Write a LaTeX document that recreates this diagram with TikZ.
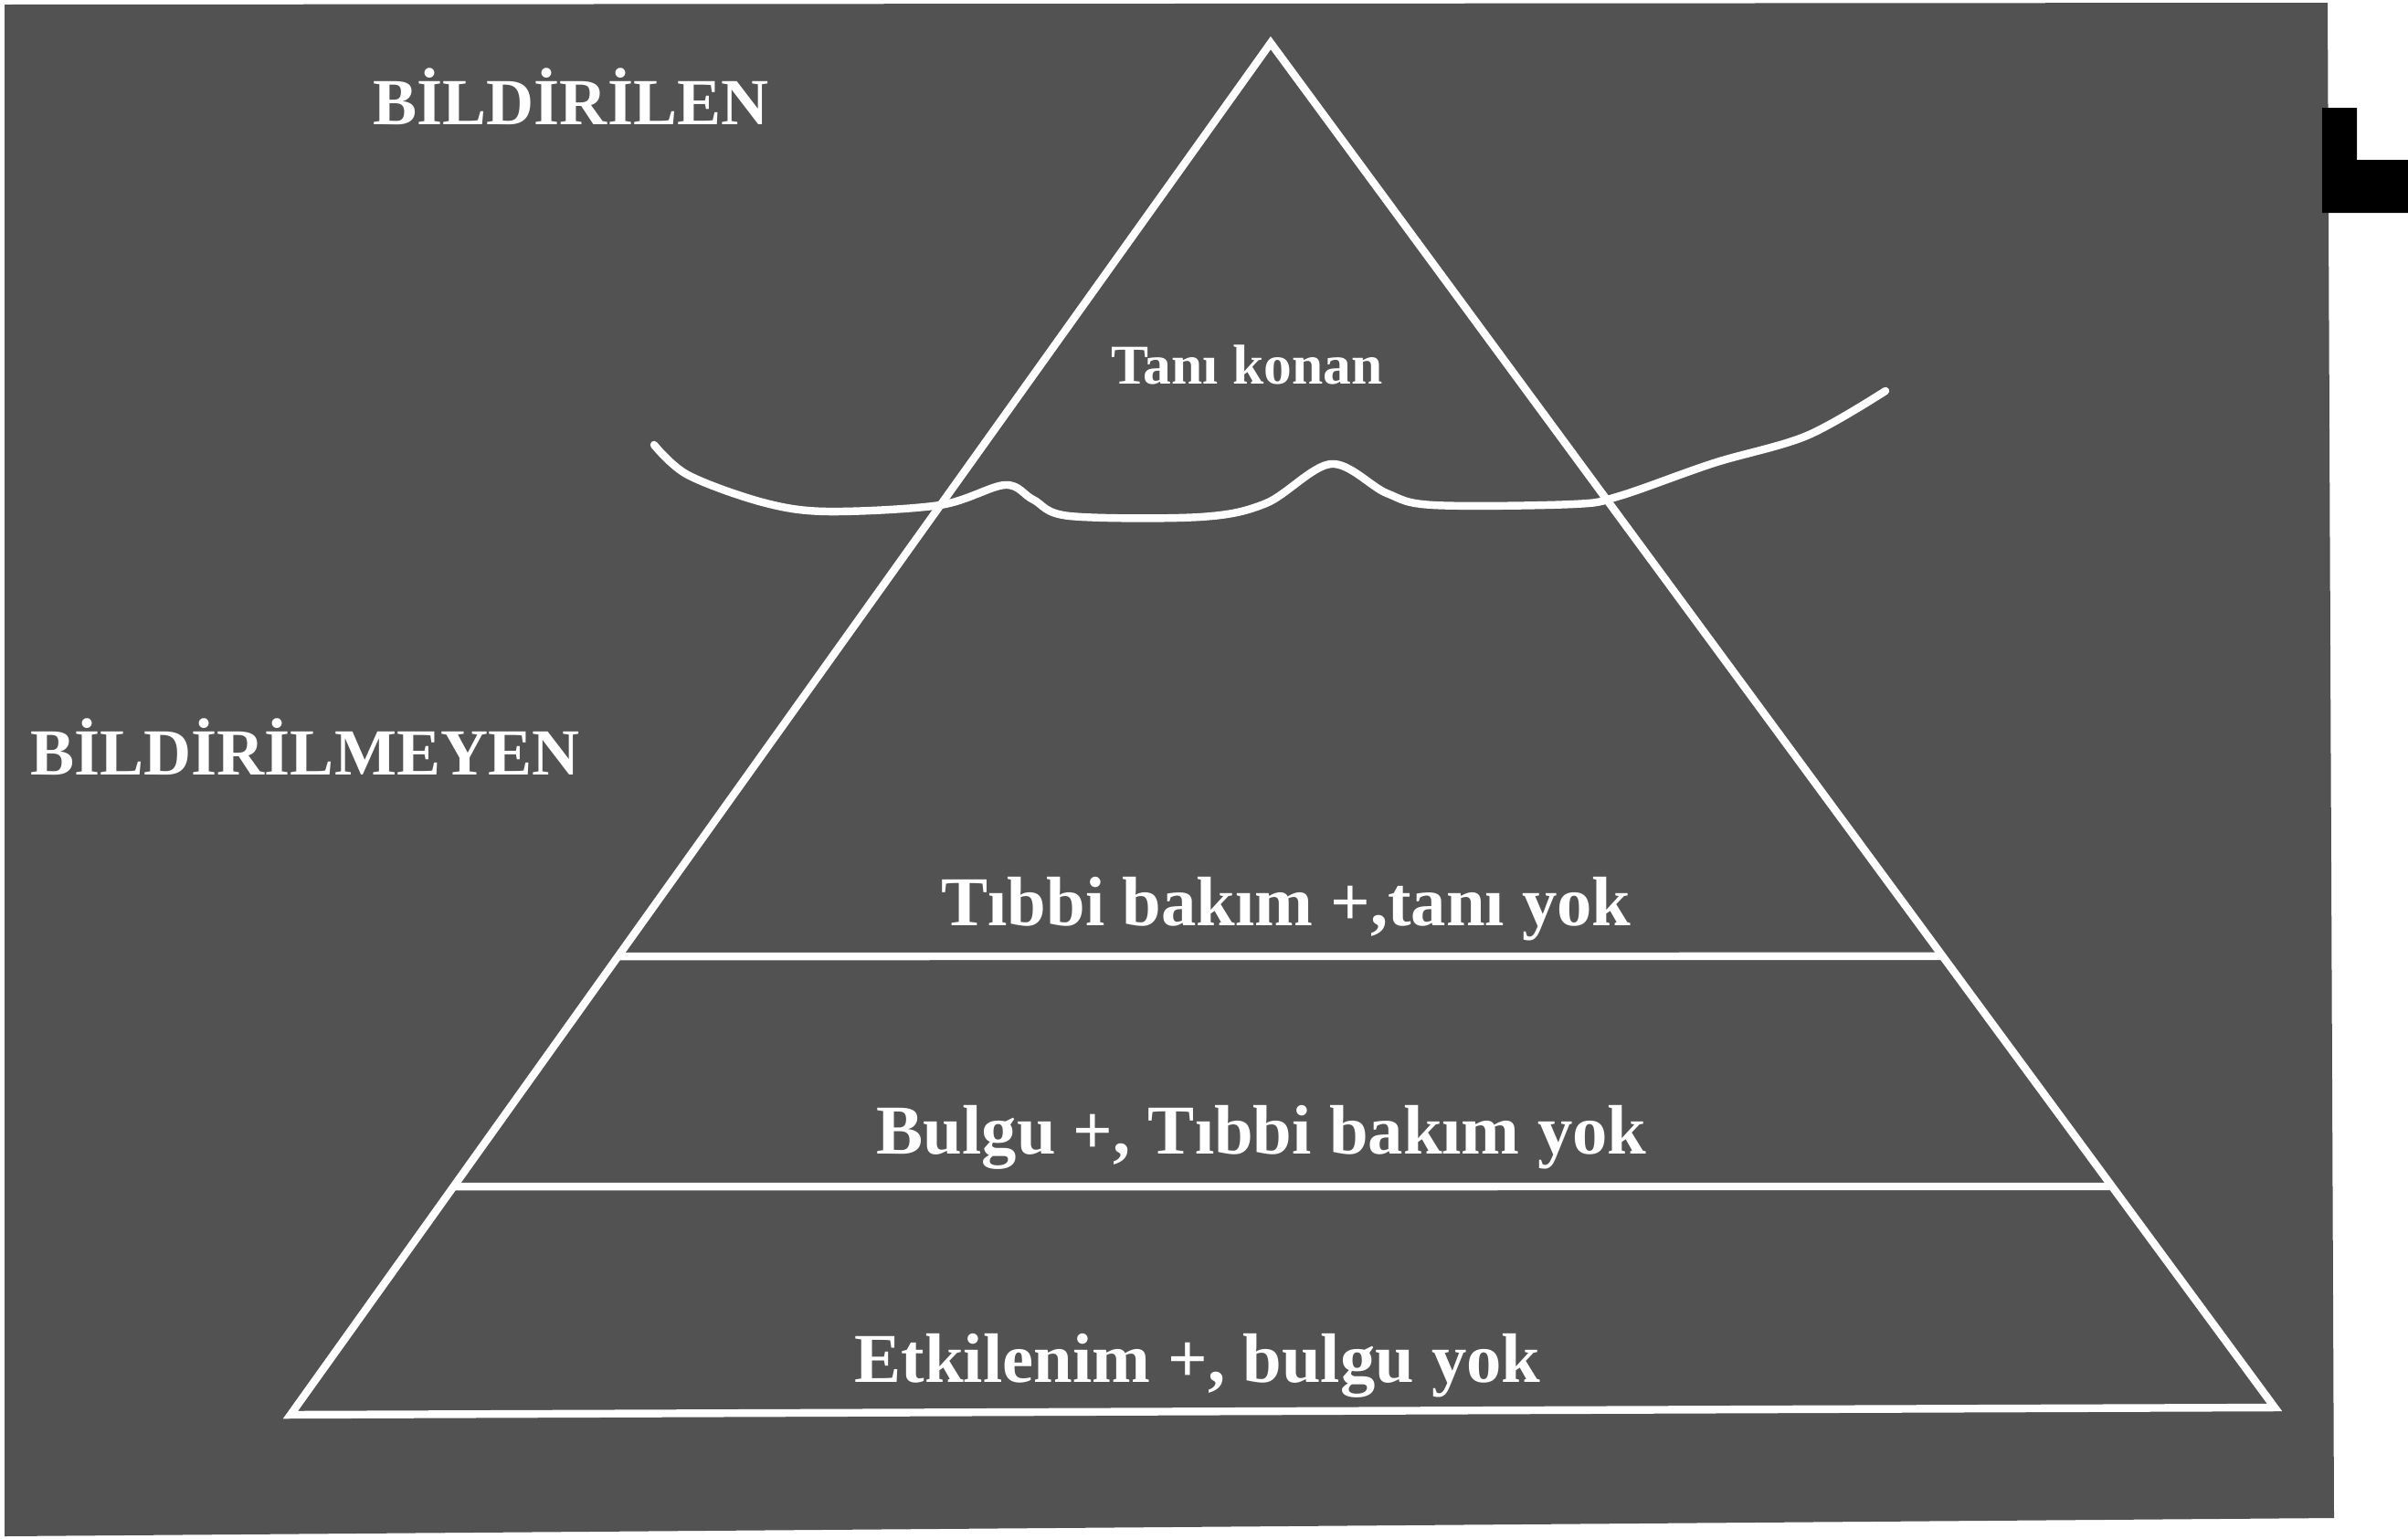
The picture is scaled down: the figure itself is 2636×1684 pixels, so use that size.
\documentclass[tikz,border=0pt]{standalone}
\usepackage{fontspec}
\setmainfont{Liberation Serif}
\usetikzlibrary{calc}
\definecolor{bggray}{gray}{0.32}
\begin{document}
\begin{tikzpicture}[x=0.01cm,y=-0.01cm,
  wline/.style={draw=white,line width=2.4pt},
  lbl/.style={text=white,anchor=base,inner sep=0pt},
  bigfont/.style={font=\fontsize{20.5}{24}\selectfont\bfseries},
  midfont/.style={font=\fontsize{21.8}{26}\selectfont\bfseries},
  smallfont/.style={font=\fontsize{17.5}{21}\selectfont\bfseries},
]
\useasboundingbox (0,0) rectangle (2636,1684);
\fill[white] (0,0) rectangle (2636,1684);
% background photo area
\fill[bggray] (5,5) -- (2548,3) -- (2555,1662) -- (5,1682) -- cycle;
% black tab at right edge
\fill[black] (2542,118) -- (2580,118) -- (2580,175) -- (2636,175) -- (2636,233) -- (2542,233) -- cycle;

% pyramid
\coordinate (apex) at (1391,47);
\coordinate (bl) at (318,1549);
\coordinate (br) at (2490,1541);
\draw[wline,line join=miter] (apex) -- (bl) -- (br) -- cycle;

% level lines
\coordinate (l1a) at ($(apex)!0.6658!(bl)$);
\coordinate (l1b) at ($(apex)!0.6693!(br)$);
\coordinate (l2a) at ($(apex)!0.8336!(bl)$);
\coordinate (l2b) at ($(apex)!0.8380!(br)$);
\draw[wline] (l1a) -- (l1b);
\draw[wline] (l2a) -- (l2b);

% wavy "water line"
\draw[wline,line cap=round,line join=round] plot[smooth,tension=0.55] coordinates {
 (716,487) (753,520) (835,550) (906,560) (1029,553) (1100,531)
 (1131,547) (1171,565) (1314,566) (1386,551) (1457,508) (1518,540)
 (1569,553) (1722,552) (1773,543) (1876,507) (1978,477) (2064,428)};

% labels
\node[lbl,bigfont] (bildirilen) at (625,136) {BİLDİRİLEN};
\node[lbl,bigfont] (bildirilmeyen) at (334,848) {BİLDİRİLMEYEN};
\node[lbl,smallfont] (tani) at (1365,420) {Tanı konan};
\node[lbl,midfont] (tibbi) at (1408,1013) {Tıbbi bakım +,tanı yok};
\node[lbl,midfont] (bulgu) at (1381,1263) {Bulgu +, Tıbbi bakım yok};
\node[lbl,midfont] (etki) at (1311,1513) {Etkilenim +, bulgu yok};
\end{tikzpicture}
\end{document}
